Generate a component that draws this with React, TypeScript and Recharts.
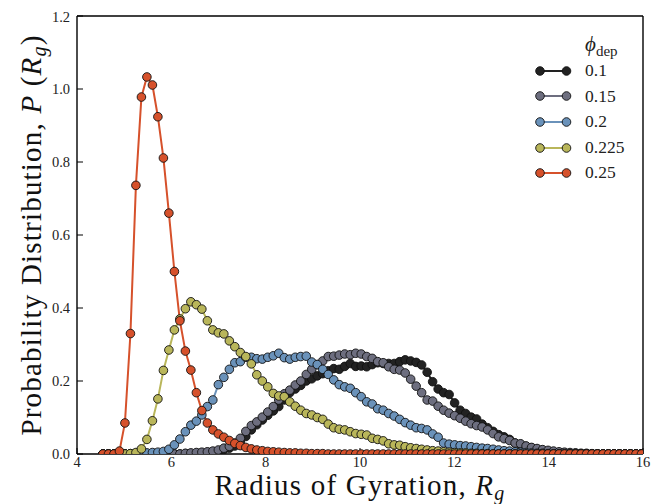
import React from 'react';
import { LineChart, Line, XAxis, YAxis, Legend } from 'recharts';

const FONT = "'Liberation Serif', 'DejaVu Serif', serif";

// Radius of gyration grid (x values)
const rg = [
  4.55, 4.667, 4.783, 4.9, 5.016, 5.133, 5.249, 5.366, 5.482, 5.599,
  5.715, 5.832, 5.948, 6.065, 6.181, 6.298, 6.414, 6.531, 6.647, 6.764,
  6.88, 6.997, 7.113, 7.23, 7.346, 7.463, 7.579, 7.696, 7.812, 7.929,
  8.045, 8.162, 8.278, 8.395, 8.511, 8.628, 8.744, 8.861, 8.977, 9.094,
  9.21, 9.327, 9.443, 9.56, 9.676, 9.793, 9.909, 10.026, 10.142, 10.259,
  10.375, 10.492, 10.608, 10.725, 10.841, 10.958, 11.074, 11.191, 11.307, 11.424,
  11.54, 11.657, 11.773, 11.89, 12.006, 12.123, 12.239, 12.356, 12.472, 12.589,
  12.705, 12.822, 12.938, 13.055, 13.171, 13.288, 13.404, 13.521, 13.637, 13.754,
  13.87, 13.987, 14.103, 14.22, 14.336, 14.453, 14.569, 14.686, 14.802, 14.919,
  15.035, 15.152, 15.268, 15.385, 15.501, 15.618, 15.734, 15.851, 15.967,
];

const p010 = [
  0, 0, 0, 0, 0, 0, 0, 0, 0, 0,
  0, 0, 0, 0, 0, 0.001, 0.001, 0.002, 0.003, 0.004,
  0.005, 0.008, 0.012, 0.016, 0.022, 0.032, 0.048, 0.066, 0.08, 0.093,
  0.106, 0.118, 0.13, 0.148, 0.168, 0.178, 0.188, 0.2, 0.206, 0.214,
  0.22, 0.228, 0.234, 0.232, 0.24, 0.248, 0.24, 0.241, 0.239, 0.245,
  0.25, 0.248, 0.248, 0.248, 0.253, 0.258, 0.255, 0.251, 0.244, 0.224,
  0.198, 0.178, 0.168, 0.163, 0.14, 0.12, 0.111, 0.101, 0.096, 0.082,
  0.072, 0.062, 0.053, 0.047, 0.04, 0.03, 0.026, 0.021, 0.017, 0.013,
  0.01, 0.007, 0.005, 0.004, 0.003, 0.002, 0.002, 0.001, 0, 0,
  0, 0, 0, 0, 0, 0, 0, 0, 0,
];

const p015 = [
  0, 0, 0, 0, 0, 0, 0, 0, 0, 0,
  0, 0, 0, 0, 0, 0.002, 0.003, 0.004, 0.005, 0.006,
  0.008, 0.011, 0.016, 0.021, 0.03, 0.043, 0.062, 0.078, 0.088, 0.101,
  0.115, 0.13, 0.148, 0.165, 0.175, 0.189, 0.2, 0.218, 0.232, 0.245,
  0.255, 0.267, 0.268, 0.271, 0.274, 0.272, 0.276, 0.274, 0.267, 0.262,
  0.253, 0.25, 0.239, 0.232, 0.23, 0.222, 0.205, 0.186, 0.168, 0.148,
  0.145, 0.131, 0.12, 0.112, 0.105, 0.098, 0.09, 0.083, 0.078, 0.074,
  0.066, 0.056, 0.047, 0.042, 0.037, 0.03, 0.028, 0.022, 0.018, 0.015,
  0.012, 0.01, 0.008, 0.006, 0.005, 0.004, 0.003, 0.002, 0.002, 0.001,
  0, 0, 0, 0, 0, 0, 0, 0, 0,
];

const p020 = [
  0, 0, 0, 0, 0, 0.001, 0.001, 0.002, 0.003, 0.004,
  0.005, 0.007, 0.013, 0.025, 0.041, 0.061, 0.079, 0.09, 0.107, 0.13,
  0.148, 0.19, 0.21, 0.232, 0.25, 0.253, 0.265, 0.265, 0.261, 0.26,
  0.265, 0.269, 0.276, 0.264, 0.26, 0.265, 0.267, 0.268, 0.252, 0.245,
  0.232, 0.218, 0.203, 0.19, 0.184, 0.18, 0.168, 0.157, 0.143, 0.137,
  0.124, 0.12, 0.111, 0.104, 0.095, 0.086, 0.079, 0.072, 0.07, 0.066,
  0.055, 0.046, 0.03, 0.027, 0.025, 0.023, 0.022, 0.02, 0.018, 0.016,
  0.015, 0.013, 0.011, 0.009, 0.008, 0.006, 0.005, 0.004, 0.003, 0.002,
  0.002, 0.001, 0, 0, 0, 0, 0, 0, 0, 0,
  0, 0, 0, 0, 0, 0, 0, 0, 0,
];

const p0225 = [
  0, 0, 0, 0, 0, 0.001, 0.004, 0.014, 0.04, 0.091,
  0.151, 0.229, 0.285, 0.34, 0.37, 0.398, 0.417, 0.409, 0.397, 0.365,
  0.34, 0.332, 0.329, 0.31, 0.294, 0.278, 0.267, 0.247, 0.217, 0.2,
  0.184, 0.166, 0.159, 0.157, 0.143, 0.131, 0.12, 0.111, 0.107, 0.1,
  0.095, 0.082, 0.072, 0.068, 0.066, 0.061, 0.056, 0.054, 0.052, 0.043,
  0.04, 0.036, 0.028, 0.025, 0.024, 0.02, 0.017, 0.015, 0.013, 0.011,
  0.009, 0.008, 0.006, 0.005, 0.004, 0.003, 0.003, 0.002, 0.002, 0.001,
  0.001, 0, 0, 0, 0, 0, 0, 0, 0, 0,
  0, 0, 0, 0, 0, 0, 0, 0, 0, 0,
  0, 0, 0, 0, 0, 0, 0, 0, 0,
];

const p025 = [
  0, 0, 0, 0.008, 0.085, 0.33, 0.736, 0.978, 1.033, 1.011,
  0.924, 0.811, 0.66, 0.5, 0.365, 0.282, 0.23, 0.168, 0.119, 0.085,
  0.066, 0.055, 0.046, 0.037, 0.029, 0.023, 0.018, 0.014, 0.011, 0.009,
  0.007, 0.006, 0.005, 0.004, 0.003, 0.003, 0.002, 0.002, 0.001, 0.001,
  0.001, 0, 0, 0, 0, 0, 0, 0, 0, 0,
  0, 0, 0, 0, 0, 0, 0, 0, 0, 0,
  0, 0, 0, 0, 0, 0, 0, 0, 0, 0,
  0, 0, 0, 0, 0, 0, 0, 0, 0, 0,
  0, 0, 0, 0, 0, 0, 0, 0, 0, 0,
  0, 0, 0, 0, 0, 0, 0, 0, 0,
];

const seriesNames = ['0.1', '0.15', '0.2', '0.225', '0.25'];
const seriesKeys = ['s010', 's015', 's020', 's0225', 's025'];
const seriesColors = ['#222222', '#6d6e7f', '#6a92ba', '#b9b65a', '#d6512b'];
const seriesValues = [p010, p015, p020, p0225, p025];

const xTicks = [4, 6, 8, 10, 12, 14, 16];
const yTicks = [0, 0.2, 0.4, 0.6, 0.8, 1.0, 1.2];

const data = rg.map((r, i) => {
  const row: Record<string, number> = { r };
  seriesKeys.forEach((k, j) => {
    row[k] = seriesValues[j][i];
  });
  return row;
});

const renderLegend = (props: any) => {
  const payload = props.payload || [];
  return (
    <div style={{ fontFamily: FONT, color: '#222', lineHeight: 1 }}>
      <div style={{ height: 24, paddingLeft: 50, fontSize: 21, position: 'relative' }}>
        <span style={{ fontStyle: 'italic' }}>ϕ</span>
        <span style={{ fontSize: 15, position: 'relative', top: 5 }}>dep</span>
      </div>
      {payload.map((e: any) => (
        <div key={e.value} style={{ display: 'flex', alignItems: 'center', height: 25.6 }}>
          <svg width={42} height={12} style={{ display: 'block' }}>
            <line x1={5} y1={6} x2={31.5} y2={6} stroke={e.color} strokeWidth={2} />
            <circle cx={5} cy={6} r={4.3} fill={e.color} stroke="#111" strokeWidth={0.9} />
            <circle cx={31.5} cy={6} r={4.3} fill={e.color} stroke="#111" strokeWidth={0.9} />
          </svg>
          <span style={{ marginLeft: 8, fontSize: 17.5 }}>{e.value}</span>
        </div>
      ))}
    </div>
  );
};

const XLabel = (props: any) => {
  const vb = props.viewBox || { x: 0, y: 0, width: 0, height: 0 };
  const cx = vb.x + vb.width / 2;
  return (
    <text x={cx} y={487} textAnchor="middle" fontFamily={FONT} fontSize={29} letterSpacing={1.2} fill="#111">
      <tspan>Radius of Gyration, </tspan>
      <tspan fontStyle="italic">R</tspan>
      <tspan fontStyle="italic" fontSize={20} dy={5}>g</tspan>
    </text>
  );
};

const YLabel = () => {
  const cy = 227;
  const x = 33;
  return (
    <text x={x} y={cy} textAnchor="middle" fontFamily={FONT} fontSize={29} letterSpacing={1.2} fill="#111" transform={`rotate(-90, ${x}, ${cy})`}>
      <tspan>Probability Distribution, </tspan>
      <tspan fontStyle="italic">P</tspan>
      <tspan> (</tspan>
      <tspan fontStyle="italic">R</tspan>
      <tspan fontStyle="italic" fontSize={20} dy={5}>g</tspan>
      <tspan dy={-5}>)</tspan>
    </text>
  );
};

const axisLine = { stroke: '#000', strokeWidth: 1.4 };
const tickLine = { stroke: '#000', strokeWidth: 1 };
const tickStyle = { fill: '#222', fontSize: 14.5, fontFamily: FONT };

export default function App() {
  return (
    <LineChart
      width={654}
      height={496}
      data={data}
      margin={{ top: 7, right: 18, bottom: 10, left: 9 }}
    >
      <XAxis
        dataKey="r"
        type="number"
        domain={[4, 16]}
        ticks={xTicks}
        allowDataOverflow
        height={40}
        axisLine={axisLine}
        tickLine={tickLine}
        tickSize={-6}
        tickMargin={9}
        tick={tickStyle}
        label={<XLabel />}
      />
      <XAxis
        xAxisId="top"
        orientation="top"
        dataKey="r"
        type="number"
        domain={[4, 16]}
        ticks={xTicks}
        allowDataOverflow
        height={1}
        axisLine={axisLine}
        tickLine={tickLine}
        tickSize={-6}
        tick={false}
      />
      <YAxis
        type="number"
        domain={[0, 1.2]}
        ticks={yTicks}
        allowDataOverflow
        width={60}
        axisLine={axisLine}
        tickLine={tickLine}
        tickSize={-6}
        tickMargin={13}
        tick={tickStyle}
        tickFormatter={(v: number) => v.toFixed(1)}
        label={<YLabel />}
      />
      <YAxis
        yAxisId="right"
        orientation="right"
        type="number"
        domain={[0, 1.2]}
        ticks={yTicks}
        allowDataOverflow
        width={1}
        axisLine={axisLine}
        tickLine={tickLine}
        tickSize={-6}
        tick={false}
      />
      <Legend
        layout="vertical"
        align="center"
        verticalAlign="middle"
        content={renderLegend}
        wrapperStyle={{ top: 26, left: 527, width: 120, height: 160 }}
      />
      {seriesKeys.map((k, j) => (
        <Line
          key={k}
          dataKey={k}
          name={seriesNames[j]}
          type="linear"
          stroke={seriesColors[j]}
          strokeWidth={2}
          dot={{ r: 4.3, fill: seriesColors[j], stroke: '#111', strokeWidth: 0.9 }}
          activeDot={false}
          isAnimationActive={false}
        />
      ))}
    </LineChart>
  );
}
